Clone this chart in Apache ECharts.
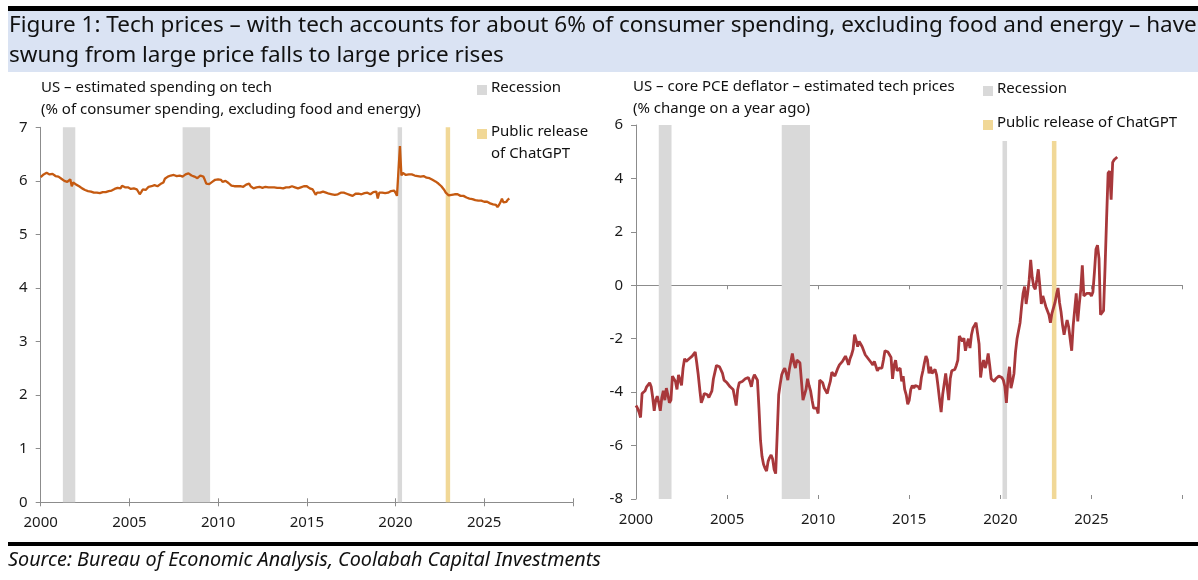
<!DOCTYPE html>
<html lang="en">
<head>
    <meta charset="utf-8">
    <title>Tech prices</title>
    <style>
        html, body { margin: 0; padding: 0; background: #fff; }
        #chart { width: 1198px; height: 580px; }
    </style>
</head>
<body>
    <div id="chart"></div>

    <script src="https://cdn.jsdelivr.net/npm/echarts@6/dist/echarts.min.js"></script>
    <script>
        // monthly data, first point = Jan 2000
        var startYear = 2000;

        // US - estimated spending on tech, % of consumer spending ex food & energy
        var techShare = [
            6.07, 6.10, 6.12, 6.14, 6.15, 6.12, 6.12, 6.10, 6.13, 6.11, 6.09, 6.10,
            6.08, 6.05, 6.04, 6.02, 6.00, 6.01, 5.98, 5.99, 6.03, 5.90, 5.97, 5.95,
            5.93, 5.92, 5.90, 5.87, 5.86, 5.84, 5.83, 5.82, 5.81, 5.80, 5.80, 5.79,
            5.78, 5.77, 5.78, 5.79, 5.77, 5.78, 5.79, 5.80, 5.79, 5.80, 5.81, 5.80,
            5.82, 5.83, 5.85, 5.84, 5.87, 5.88, 5.86, 5.91, 5.89, 5.88, 5.87, 5.88,
            5.86, 5.85, 5.84, 5.86, 5.83, 5.84, 5.80, 5.75, 5.79, 5.84, 5.86, 5.83,
            5.85, 5.89, 5.88, 5.90, 5.93, 5.92, 5.91, 5.90, 5.93, 5.94, 5.92, 5.97,
            6.04, 6.07, 6.08, 6.09, 6.10, 6.09, 6.11, 6.12, 6.09, 6.11, 6.10, 6.07,
            6.08, 6.05, 6.12, 6.15, 6.14, 6.12, 6.10, 6.11, 6.08, 6.06, 6.05, 6.07,
            6.10, 6.12, 6.08, 6.02, 5.95, 5.92, 5.94, 5.96, 5.98, 6.00, 6.02, 6.01,
            6.03, 6.00, 6.02, 5.98, 6.01, 6.00, 5.97, 5.96, 5.93, 5.91, 5.89, 5.90,
            5.89, 5.90, 5.90, 5.90, 5.91, 5.89, 5.92, 5.93, 5.95, 5.95, 5.90, 5.88,
            5.86, 5.87, 5.88, 5.87, 5.89, 5.88, 5.87, 5.88, 5.89, 5.88, 5.88, 5.87,
            5.88, 5.87, 5.88, 5.88, 5.87, 5.88, 5.87, 5.87, 5.86, 5.87, 5.88, 5.88,
            5.88, 5.89, 5.90, 5.89, 5.88, 5.87, 5.86, 5.87, 5.88, 5.89, 5.90, 5.90,
            5.90, 5.88, 5.86, 5.87, 5.84, 5.83, 5.74, 5.78, 5.80, 5.78, 5.79, 5.80,
            5.79, 5.78, 5.76, 5.76, 5.77, 5.75, 5.76, 5.74, 5.73, 5.75, 5.77, 5.78,
            5.77, 5.78, 5.78, 5.76, 5.75, 5.74, 5.73, 5.72, 5.74, 5.76, 5.75, 5.76,
            5.76, 5.75, 5.73, 5.77, 5.76, 5.78, 5.76, 5.75, 5.77, 5.79, 5.79, 5.80,
            5.67, 5.78, 5.79, 5.78, 5.76, 5.77, 5.79, 5.78, 5.80, 5.81, 5.80, 5.82,
            5.78, 5.72, 5.75, 6.65, 6.10, 6.15, 6.12, 6.11, 6.13, 6.12, 6.14, 6.12,
            6.11, 6.10, 6.12, 6.09, 6.11, 6.08, 6.07, 6.09, 6.08, 6.06, 6.04, 6.05,
            6.03, 6.02, 6.00, 5.99, 5.97, 5.95, 5.93, 5.90, 5.87, 5.83, 5.78, 5.75,
            5.73, 5.72, 5.74, 5.73, 5.75, 5.74, 5.75, 5.73, 5.72, 5.71, 5.72, 5.70,
            5.69, 5.68, 5.67, 5.67, 5.66, 5.65, 5.64, 5.64, 5.63, 5.62, 5.63, 5.62,
            5.61, 5.60, 5.61, 5.59, 5.58, 5.57, 5.56, 5.58, 5.55, 5.51, 5.55, 5.60,
            5.67, 5.60, 5.62, 5.61, 5.65, 5.67
        ];

        // US - core PCE deflator, estimated tech prices, % y/y
        var techPrices = [
            -4.50, -4.60, -4.75, -4.95, -4.05, -4.10, -3.95, -3.80, -3.75, -3.65, -3.80, -4.20,
            -4.70, -4.30, -4.15, -4.40, -4.70, -4.20, -3.95, -4.30, -3.85, -4.10, -4.40, -4.30,
            -3.40, -3.35, -3.60, -3.90, -3.35, -3.55, -3.75, -3.10, -2.75, -2.85, -2.80, -2.75,
            -2.75, -2.65, -2.70, -2.50, -2.90, -3.35, -3.90, -4.40, -4.25, -4.05, -4.10, -4.10,
            -4.20, -4.25, -3.95, -3.50, -3.25, -3.00, -3.00, -3.05, -3.05, -3.30, -3.55, -3.60,
            -3.65, -3.70, -3.80, -3.85, -3.90, -3.95, -4.50, -3.90, -3.65, -3.65, -3.60, -3.55,
            -3.50, -3.50, -3.45, -3.60, -3.80, -3.50, -3.35, -3.45, -3.55, -4.60, -5.80, -6.40,
            -6.70, -6.85, -6.95, -6.60, -6.45, -6.35, -6.50, -6.90, -7.05, -5.60, -4.10, -3.70,
            -3.35, -3.20, -3.10, -3.30, -3.55, -3.15, -2.85, -2.55, -2.90, -3.10, -2.80, -2.85,
            -2.90, -3.60, -4.30, -4.35, -3.90, -3.50, -3.75, -3.95, -4.30, -4.60, -4.55, -4.60,
            -4.80, -3.55, -3.55, -3.65, -3.85, -3.95, -4.05, -3.80, -3.60, -3.25, -3.30, -3.40,
            -3.25, -3.10, -2.98, -2.95, -2.85, -2.75, -2.65, -2.80, -2.98, -2.75, -2.60, -2.40,
            -1.85, -2.05, -2.30, -2.10, -2.20, -2.30, -2.45, -2.60, -2.65, -2.75, -2.80, -2.90,
            -2.98, -2.85, -2.80, -3.20, -3.10, -3.05, -3.10, -2.80, -2.45, -2.45, -2.50, -2.60,
            -2.70, -3.50, -3.00, -2.80, -3.20, -3.15, -3.10, -3.60, -3.40, -3.90, -4.10, -4.45,
            -4.30, -3.90, -3.75, -3.85, -3.75, -3.70, -3.80, -3.90, -3.45, -3.20, -2.90, -2.65,
            -2.80, -3.30, -3.05, -3.30, -3.25, -3.15, -3.35, -3.80, -4.30, -4.75, -4.10, -3.70,
            -3.30, -3.35, -4.30, -3.50, -3.20, -3.20, -3.15, -3.00, -2.80, -1.90, -2.00, -2.10,
            -1.98, -2.45, -2.20, -2.00, -2.35, -1.85, -1.60, -1.50, -1.40, -1.80, -2.20, -3.45,
            -3.00, -2.80, -3.10, -2.90, -2.55, -3.00, -3.50, -3.55, -3.60, -3.50, -3.45, -3.40,
            -3.35, -3.45, -3.55, -3.80, -4.40, -3.50, -3.05, -3.85, -3.60, -3.30, -2.50, -2.00,
            -2.05, -1.40, -0.80, -0.30, -0.05, -0.70, -0.30, 0.20, 0.95, 0.30, -0.05, -0.15,
            0.20, 0.60, 0.00, -0.70, -0.40, -0.45, -0.80, -0.95, -1.10, -1.40, -1.05, -0.85,
            -0.65, -0.35, -0.10, -0.65, -1.00, -1.50, -1.85, -1.55, -1.30, -1.55, -2.00, -2.45,
            -1.50, -0.90, -0.30, -1.35, -0.70, -0.15, 0.75, -0.40, -0.35, -0.30, -0.30, -0.30,
            -0.40, -0.25, 0.50, 1.35, 1.50, 1.00, -1.10, -1.05, -0.95, 0.70, 2.50, 4.20,
            4.28, 3.20, 4.60, 4.70, 4.75, 4.80
        ];

        // shaded periods (decimal years)
        var recessions = [[2001.25, 2001.95], [2008.0, 2009.55], [2020.12, 2020.37]];
        var chatgptRelease = [2022.83, 2023.08];

        var font = 'Noto Sans';
        var axisGrey = '#8c8c8c';
        var recessionColor = '#d9d9d9';
        var chatgptColor = '#f1d897';

        function toPairs(values) {
            var out = [];
            for (var i = 0; i < values.length; i++) {
                out.push([startYear + i / 12, values[i]]);
            }
            return out;
        }

        var bandData = recessions.map(function (r) { return [r[0], r[1], 0]; });
        bandData.push([chatgptRelease[0], chatgptRelease[1], 1]);

        // bands drawn through the axes; later bands on the right stop under the legend
        function bandRenderer(bottom, top, lateTop) {
            return function (params, api) {
                var x0 = api.value(0), x1 = api.value(1);
                var t = (lateTop != null && x0 > 2015) ? lateTop : top;
                var p0 = api.coord([x0, t]);
                var p1 = api.coord([x1, bottom]);
                return {
                    type: 'rect',
                    shape: { x: p0[0], y: p0[1], width: p1[0] - p0[0], height: p1[1] - p0[1] },
                    style: { fill: api.value(2) === 1 ? chatgptColor : recessionColor }
                };
            };
        }

        var labelStyle = { fontFamily: font, fontSize: 15, color: '#1a1a1a' };

        function yearAxis(grid, opts) {
            var ax = {
                type: 'value', gridIndex: grid, min: 2000, max: 2030, interval: 5,
                position: 'bottom',
                splitLine: { show: false },
                axisLine: { show: false, onZero: false, lineStyle: { color: axisGrey, width: 1 } },
                axisTick: { show: false, length: 4, lineStyle: { color: axisGrey } },
                axisLabel: { show: false }
            };
            return echarts.util.merge(ax, opts, true);
        }

        var yearLabels = {
            show: true, margin: 13,
            fontFamily: font, fontSize: 15, color: '#1a1a1a',
            formatter: function (v) { return v === 2030 ? '' : String(v); }
        };

        function txt(x, y, s, size, extra) {
            var style = { text: s, fontFamily: font, fontSize: size || 15, fill: '#111' };
            if (extra) Object.assign(style, extra);
            return { type: 'text', left: x, top: y, style: style };
        }

        var myChart = echarts.init(document.getElementById('chart'), null, { renderer: 'canvas' });

        var option = {
            backgroundColor: '#fff',
            animation: false,
            textStyle: { fontFamily: font },
            grid: [
                { left: 40.7, top: 127.3, width: 532.2, height: 375 },
                { left: 636, top: 125, width: 546.5, height: 374 }
            ],
            xAxis: [
                yearAxis(0, { axisLine: { show: true }, axisTick: { show: true }, axisLabel: yearLabels }),
                yearAxis(0, { axisTick: { show: true, inside: true } }),
                yearAxis(1, { axisLine: { show: true, onZero: true }, axisTick: { show: true } }),
                yearAxis(1, { axisLine: { onZero: true }, axisTick: { show: true, inside: true } }),
                yearAxis(1, { axisLabel: yearLabels })
            ],
            yAxis: [
                {
                    type: 'value', gridIndex: 0, min: 0, max: 7, interval: 1,
                    splitLine: { show: false },
                    axisLine: { show: true, lineStyle: { color: axisGrey } },
                    axisTick: { show: true, length: 5, lineStyle: { color: axisGrey } },
                    axisLabel: Object.assign({ margin: 13 }, labelStyle)
                },
                {
                    type: 'value', gridIndex: 1, min: -8, max: 6, interval: 2,
                    splitLine: { show: false },
                    axisLine: { show: true, onZero: false, lineStyle: { color: axisGrey } },
                    axisTick: { show: true, length: 5, lineStyle: { color: axisGrey } },
                    axisLabel: Object.assign({ margin: 13 }, labelStyle)
                }
            ],
            series: [
                {
                    type: 'custom', xAxisIndex: 0, yAxisIndex: 0, z: 1, silent: true,
                    renderItem: bandRenderer(0, 7),
                    data: bandData
                },
                {
                    type: 'custom', xAxisIndex: 2, yAxisIndex: 1, z: 1, silent: true,
                    renderItem: bandRenderer(-8, 6, 5.4),
                    data: bandData
                },
                {
                    type: 'line', xAxisIndex: 0, yAxisIndex: 0, z: 3,
                    showSymbol: false, symbol: 'none',
                    lineStyle: { color: '#c55a11', width: 2.3 },
                    data: toPairs(techShare)
                },
                {
                    type: 'line', xAxisIndex: 2, yAxisIndex: 1, z: 3,
                    showSymbol: false, symbol: 'none',
                    lineStyle: { color: '#a8383b', width: 2.8 },
                    data: toPairs(techPrices)
                }
            ],
            graphic: [
                // header
                { type: 'rect', left: 8, top: 6, shape: { width: 1190, height: 5 }, style: { fill: '#000' } },
                { type: 'rect', left: 8, top: 11, shape: { width: 1190, height: 61 }, style: { fill: '#dae3f3' } },
                txt(9, 14, 'Figure 1: Tech prices \u2013 with tech accounts for about 6% of consumer spending, excluding food and energy \u2013 have', 22.5),
                txt(9, 44, 'swung from large price falls to large price rises', 22.5),

                // left panel titles + legend
                txt(41, 80, 'US \u2013 estimated spending on tech'),
                txt(41, 102, '(% of consumer spending, excluding food and energy)'),
                { type: 'rect', left: 477, top: 85, shape: { width: 10, height: 10 }, style: { fill: recessionColor } },
                txt(491, 80, 'Recession'),
                { type: 'rect', left: 477, top: 129, shape: { width: 10, height: 10 }, style: { fill: chatgptColor } },
                txt(491, 124, 'Public release'),
                txt(491, 146, 'of ChatGPT'),

                // right panel titles + legend
                txt(633, 79, 'US \u2013 core PCE deflator \u2013 estimated tech prices'),
                txt(633, 101, '(% change on a year ago)'),
                { type: 'rect', left: 983, top: 86, shape: { width: 10, height: 10 }, style: { fill: recessionColor } },
                txt(997, 81, 'Recession'),
                { type: 'rect', left: 983, top: 120, shape: { width: 10, height: 10 }, style: { fill: chatgptColor } },
                txt(997, 115, 'Public release of ChatGPT'),

                // footer
                { type: 'rect', left: 8, top: 542, shape: { width: 1190, height: 4 }, style: { fill: '#000' } },
                txt(8, 550, 'Source: Bureau of Economic Analysis, Coolabah Capital Investments', 19.8, { fontStyle: 'italic' })
            ]
        };

        myChart.setOption(option);

        window.onresize = function () {
            myChart.resize();
        };
    </script>
</body>
</html>
